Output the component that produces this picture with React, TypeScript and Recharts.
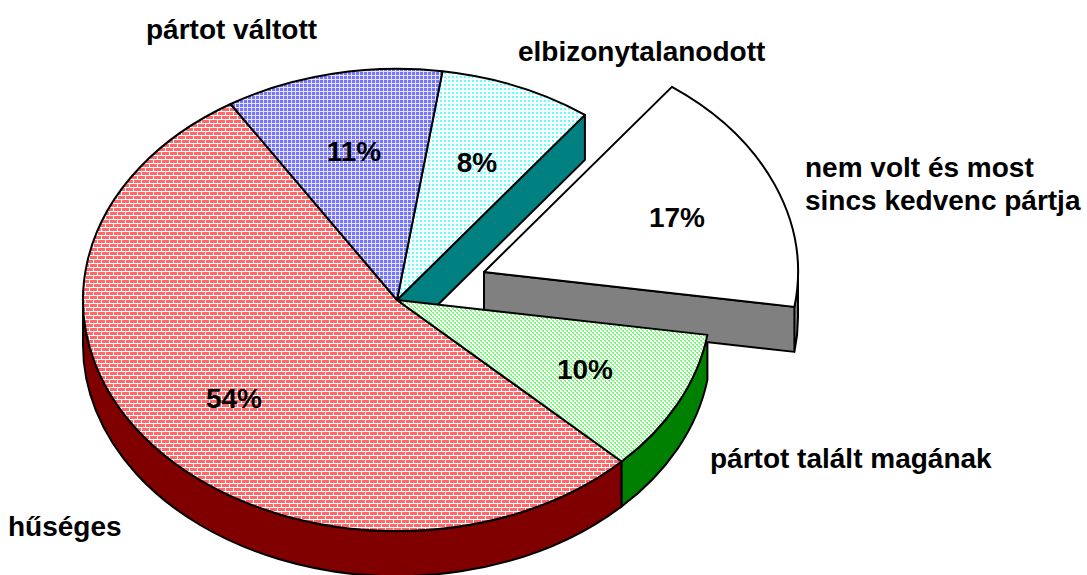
import { Pie, PieChart } from 'recharts';

const categories = ['hűséges', 'pártot talált magának', 'nem volt és most sincs kedvenc pártja', 'elbizonytalanodott', 'pártot váltott'];
const shares = [53.8, 9.9, 17.2, 7.9, 11.2];
const percentLabels = ['54%', '10%', '17%', '8%', '11%'];
const fills = ['url(#brick)', 'url(#greenDots)', '#ffffff', 'url(#cyanDots)', 'url(#blueWeave)'];
const wallColors = ['#800000', '#008000', '#808080', '#008080', '#000080'];
const explodeX = [0, 0, 87, 0, 0];
const explodeY = [0, 0, -28, 0, 0];
const percentX = [234, 585, 677, 477, 354];
const percentY = [408, 379, 227, 172, 161];
const nameLines = [
  { text: 'hűséges', x: 8, y: 536 },
  { text: 'pártot talált magának', x: 710, y: 468 },
  { text: 'nem volt és most', x: 805, y: 177 },
  { text: 'sincs kedvenc pártja', x: 805, y: 210 },
  { text: 'elbizonytalanodott', x: 518, y: 61 },
  { text: 'pártot váltott', x: 146, y: 39 },
];

const chartData = categories.map((name, i) => ({ name, value: shares[i] }));

const SQUASH = 0.736;
const DEPTH = 45;
const FONT = '"Liberation Sans", Arial, sans-serif';
const FONT_SIZE = 28;

const rad = (a: number) => (a * Math.PI) / 180;

const isExploded = (i: number) => explodeX[(i + shares.length) % shares.length] !== 0;

const rimPoint = (p: any, a: number) => [
  p.cx + explodeX[p.index] + p.outerRadius * Math.cos(rad(a)),
  p.cy + explodeY[p.index] - p.outerRadius * SQUASH * Math.sin(rad(a)),
];

// top face of a slice, squashed into an ellipse
const TopFace = (p: any) => {
  const cx = p.cx + explodeX[p.index];
  const cy = p.cy + explodeY[p.index];
  const [x1, y1] = rimPoint(p, p.startAngle);
  const [x2, y2] = rimPoint(p, p.endAngle);
  const large = p.endAngle - p.startAngle > 180 ? 1 : 0;
  const ry = p.outerRadius * SQUASH;
  const d = `M${cx},${cy}L${x1},${y1}A${p.outerRadius},${ry} 0 ${large} 0 ${x2},${y2}Z`;
  return <path d={d} fill={fills[p.index]} stroke="#000" strokeWidth={2} strokeLinejoin="round" />;
};

// side walls: the rim facing the viewer, and cut faces opened up by the exploded slice
const SideWalls = (p: any) => {
  const cx = p.cx + explodeX[p.index];
  const cy = p.cy + explodeY[p.index];
  const ry = p.outerRadius * SQUASH;
  const edge = (a: number) => {
    const [x, y] = rimPoint(p, a);
    return `M${cx},${cy}L${x},${y}L${x},${y + DEPTH}L${cx},${cy + DEPTH}Z`;
  };
  let d = '';
  if (Math.cos(rad(p.startAngle)) > 0 && (isExploded(p.index) || isExploded(p.index - 1))) d += edge(p.startAngle);
  if (Math.cos(rad(p.endAngle)) < 0 && (isExploded(p.index) || isExploded(p.index + 1))) d += edge(p.endAngle);
  // lower half of the ellipse is 180..360 (and 540..720 after wrapping)
  for (const base of [180, 540]) {
    const from = Math.max(p.startAngle, base);
    const to = Math.min(p.endAngle, base + 180);
    if (to > from) {
      const [x1, y1] = rimPoint(p, from);
      const [x2, y2] = rimPoint(p, to);
      d += `M${x1},${y1}A${p.outerRadius},${ry} 0 0 0 ${x2},${y2}L${x2},${y2 + DEPTH}A${p.outerRadius},${ry} 0 0 1 ${x1},${y1 + DEPTH}Z`;
    }
  }
  if (!d) return <g />;
  return <path d={d} fill={wallColors[p.index]} stroke="#000" strokeWidth={2} strokeLinejoin="round" />;
};

const renderPercent = (p: any) => (
  <text key={p.index} x={percentX[p.index]} y={percentY[p.index]} textAnchor="middle" fontFamily={FONT} fontWeight="bold" fontSize={FONT_SIZE} fill="#000">
    {percentLabels[p.index]}
  </text>
);

export default function App() {
  return (
    <div style={{ position: 'absolute', left: 0, top: 0, width: 1087, height: 575, background: '#fff', overflow: 'hidden' }}>
      <PieChart width={1087} height={575} margin={{ top: 0, right: 0, bottom: 0, left: 0 }}>
        <defs>
          <pattern id="brick" width="8" height="8" patternUnits="userSpaceOnUse">
            <rect width="8" height="8" fill="#ff6868" shapeRendering="crispEdges" />
            <rect y="3" width="8" height="1" fill="#fff" shapeRendering="crispEdges" />
            <rect y="7" width="8" height="1" fill="#fff" shapeRendering="crispEdges" />
            <rect x="1" width="1" height="3" fill="#fff" shapeRendering="crispEdges" />
            <rect x="5" y="4" width="1" height="3" fill="#fff" shapeRendering="crispEdges" />
          </pattern>
          <pattern id="blueWeave" width="4" height="4" patternUnits="userSpaceOnUse">
            <rect width="4" height="4" fill="#7474ff" shapeRendering="crispEdges" />
            <rect x="3" width="1" height="4" fill="#e4e4ff" shapeRendering="crispEdges" />
            <rect y="3" width="4" height="1" fill="#e4e4ff" shapeRendering="crispEdges" />
          </pattern>
          <pattern id="cyanDots" width="4" height="4" patternUnits="userSpaceOnUse">
            <rect width="4" height="4" fill="#fff" shapeRendering="crispEdges" />
            <rect width="2" height="2" fill="#66ffff" shapeRendering="crispEdges" />
            <rect x="2" y="2" width="1" height="1" fill="#bbffff" shapeRendering="crispEdges" />
          </pattern>
          <pattern id="greenDots" width="4" height="4" patternUnits="userSpaceOnUse">
            <rect width="4" height="4" fill="#fff" shapeRendering="crispEdges" />
            <rect width="2" height="1" fill="#66ff66" shapeRendering="crispEdges" />
            <rect x="2" y="2" width="2" height="1" fill="#66ff66" shapeRendering="crispEdges" />
            <rect x="1" y="1" width="1" height="1" fill="#66ff66" shapeRendering="crispEdges" />
            <rect x="3" y="3" width="1" height="1" fill="#66ff66" shapeRendering="crispEdges" />
          </pattern>
        </defs>
        <Pie
          data={chartData}
          dataKey="value"
          nameKey="name"
          cx={397}
          cy={300}
          innerRadius={0}
          outerRadius={314}
          startAngle={122}
          endAngle={482}
          shape={SideWalls}
          isAnimationActive={false}
          legendType="none"
        />
        <Pie
          data={chartData}
          dataKey="value"
          nameKey="name"
          cx={397}
          cy={300}
          innerRadius={0}
          outerRadius={314}
          startAngle={122}
          endAngle={482}
          shape={TopFace}
          label={renderPercent}
          labelLine={false}
          isAnimationActive={false}
          legendType="none"
        />
        {nameLines.map((l) => (
          <text key={l.text} x={l.x} y={l.y} fontFamily={FONT} fontWeight="bold" fontSize={FONT_SIZE} fill="#000">
            {l.text}
          </text>
        ))}
      </PieChart>
    </div>
  );
}
